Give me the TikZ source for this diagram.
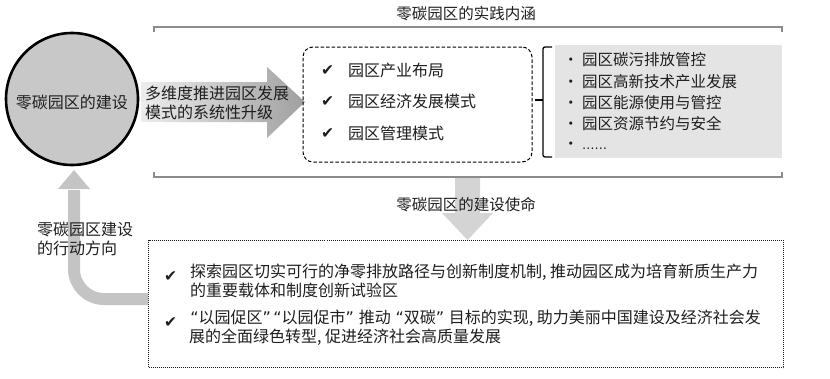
\documentclass[tikz,border=0pt]{standalone}
\usepackage{fontspec}
\setmainfont{Noto Sans CJK SC}
\newfontfamily\symf{DejaVu Sans}
\usetikzlibrary{calc}
\newcommand\qopen{\makebox[9.5pt][r]{\symf “}}
\newcommand\qclose{\makebox[9.5pt][l]{\symf ”}}
\definecolor{txt}{HTML}{1E1E1E}
\definecolor{circfill}{HTML}{C8C8C8}
\definecolor{listgray}{HTML}{E4E4E4}
\definecolor{linegray}{HTML}{8C8C8C}
\definecolor{downgray}{HTML}{D4D4D4}
\definecolor{lgray}{HTML}{C4C4C4}
\begin{document}
\begin{tikzpicture}[x=1pt,y=-1pt,
  every node/.style={text=txt, inner sep=0pt, font=\fontsize{16}{18.5}\selectfont},
  ttl/.style={font=\fontsize{15.5}{18}\selectfont},
  chk/.style={anchor=west, font=\symf\fontsize{15.5}{15.5}\selectfont},
  item/.style={anchor=west},
  bul/.style={anchor=west, font=\fontsize{15.5}{18}\selectfont},
  frame/.style={draw=linegray, line width=1.1pt}]
\useasboundingbox (0,0) rectangle (830,378);

% core circle
\node[circle, draw=black, line width=2.6pt, fill=circfill, minimum size=132pt] (core) at (72,99) {};
\node (coretxt) at (72,102) {零碳园区的建设};

% big gradient arrow
\coordinate (arS) at (141,102);
\coordinate (arT) at (305,102);
\shade[left color=gray!14, right color=gray!75]
  (arS |- 0,82) -- (267,82) -- (267,67) -- (arT) -- (267,138) -- (267,122) -- (arS |- 0,122) -- cycle;
\node[anchor=west, align=left, font=\fontsize{16}{19}\selectfont] (artxt) at (145,102.5) {多维度推进园区发展\\模式的系统性升级};

% top frame lines
\node[ttl] (t1) at (466,14) {零碳园区的实践内涵};
\coordinate (fl) at (154,27);
\coordinate (fr) at (782,27);
\coordinate (bl) at (154,177);
\coordinate (br) at (782,177);
\draw[frame] ($(fl)+(0,5)$) -- (fl) -- (fr) -- ($(fr)+(0,5)$);
\draw[frame] ($(bl)+(0,-5)$) -- (bl) -- (br) -- ($(br)+(0,-5)$);

% dashed box
\node[draw=black, line width=1pt, dash pattern=on 3.5pt off 2pt, rounded corners=10pt,
      minimum width=229pt, minimum height=115pt] (inner) at (417.5,104.5) {};
\node[chk] (c1) at (321,71) {✔};
\node[item] (i1) at (348,70) {园区产业布局};
\node[chk] (c2) at (321,102) {✔};
\node[item] (i2) at (348,101) {园区经济发展模式};
\node[chk] (c3) at (321,134) {✔};
\node[item] (i3) at (348,133) {园区管理模式};

% bracket
\coordinate (bt) at (543,47);
\coordinate (bb) at (543,157);
\coordinate (bm) at (543,100);
\draw[black, line width=1.3pt, rounded corners=2pt] ($(bt)+(9,0)$) -- (bt) -- (bb) -- ($(bb)+(9,0)$);
\draw[black, line width=1.3pt] (bm) -- ($(bm)+(-8,0)$);

% gray list
\node[fill=listgray, minimum width=227pt, minimum height=113pt, anchor=north west] (list) at (555,45) {};
\node[bul] (b1) at (563,60) {• 园区碳污排放管控};
\node[bul] (b2) at (563,82) {• 园区高新技术产业发展};
\node[bul] (b3) at (563,103) {• 园区能源使用与管控};
\node[bul] (b4) at (563,124) {• 园区资源节约与安全};
\node[bul] (b5) at (563,146) {• {\symf\fontsize{12.5}{12.5}\selectfont ……}};

% down arrow
\coordinate (dtop) at (467.5,178);
\coordinate (dtip) at (467.5,240);
\fill[downgray] ($(dtop)+(-12.5,0)$) -- ($(dtop)+(12.5,0)$) -- (480,213) -- (493,213) -- (dtip) -- (442,213) -- (455,213) -- cycle;
\node[ttl] (t2) at (466,205) {零碳园区的建设使命};

% mission box
\node[draw=txt, line width=1pt, dash pattern=on 1pt off 1pt, minimum width=635pt, minimum height=127pt,
      anchor=north west] (mission) at (148,240) {};
\node[chk] (m1c) at (164,277) {✔};
\node[anchor=north west, align=left] (m1) at (190,264) {探索园区切实可行的净零排放路径与创新制度机制, 推动园区成为培育新质生产力\\的重要载体和制度创新试验区};
\node[chk] (m2c) at (164,323) {✔};
\node[anchor=north west, align=left] (m2) at (189,310) {\qopen 以园促区\qclose\qopen 以园促市\qclose\ 推动 \qopen 双碳\qclose\ 目标的实现, 助力美丽中国建设及经济社会发\\展的全面绿色转型, 促进经济社会高质量发展};

% L-shaped return arrow
\coordinate (lstart) at (mission.west |- 0,299);
\coordinate (lend) at (74,190);
\coordinate (ltip) at (74,170);
\draw[lgray, line width=12pt, rounded corners=30pt] (lstart) -| (lend);
\fill[lgray] ($(ltip)+(-16,19)$) -- ($(ltip)+(16,19)$) -- (ltip) -- cycle;
\node[anchor=west, align=left] (ltxt) at (37,239) {零碳园区建设\\的行动方向};
\end{tikzpicture}
\end{document}
